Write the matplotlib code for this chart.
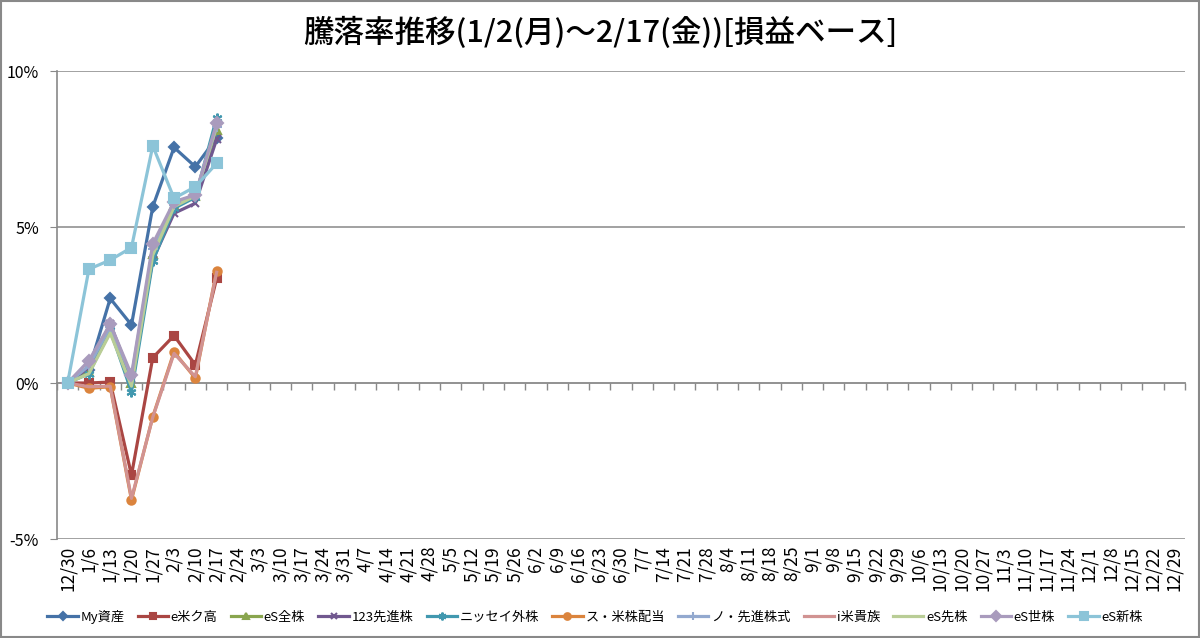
import matplotlib
matplotlib.use("Agg")
import matplotlib.pyplot as plt
from matplotlib.patches import Rectangle
import numpy as np
import datetime as dt

plt.rcParams['font.family'] = ['Noto Sans CJK JP', 'DejaVu Sans']

# Weekly category labels for the year
start = dt.date(2016, 12, 30)
weeks = [f"{(start + dt.timedelta(days=7 * i)).month}/{(start + dt.timedelta(days=7 * i)).day}"
         for i in range(53)]

# Cumulative change (%) for each fund
my_assets = [0, 0.42, 2.71, 1.86, 5.65, 7.55, 6.93, 7.86]
e_us_high = [0, 0.0, 0.03, -2.95, 0.81, 1.52, 0.58, 3.35]
es_all = [0, 0.35, 1.64, 0.0, 4.15, 5.7, 6.0, 8.1]
adv_123 = [0, 0.5, 1.9, 0.15, 3.95, 5.44, 5.76, 7.81]
nissay = [0, 0.3, 1.7, -0.28, 3.9, 5.6, 5.95, 8.5]
s_us_div = [0, -0.17, -0.12, -3.75, -1.08, 1.0, 0.15, 3.6]
no_adv = [0, 0.55, 1.8, 0.2, 4.3, 5.7, 6.05, 8.2]
i_us_arist = [0, -0.12, -0.1, -3.7, -1.1, 0.95, 0.2, 3.55]
es_adv = [0, 0.3, 1.6, -0.1, 4.1, 5.65, 6.0, 8.25]
es_world = [0, 0.72, 1.89, 0.26, 4.46, 5.81, 6.03, 8.32]
es_emerging = [0, 3.65, 3.94, 4.34, 7.6, 5.92, 6.29, 7.04]

names = ["My資産", "e米ク高", "eS全株", "123先進株", "ニッセイ外株", "ス・米株配当",
         "ノ・先進株式", "i米貴族", "eS先株", "eS世株", "eS新株"]
series = [my_assets, e_us_high, es_all, adv_123, nissay, s_us_div,
          no_adv, i_us_arist, es_adv, es_world, es_emerging]
colors = ["#4572A7", "#AA4643", "#89A54E", "#71588F", "#4198AF", "#DB843D",
          "#93A9CF", "#D19392", "#B9CD96", "#A99BBD", "#8CC4D8"]
markers = ["D", "s", "^", "x", (6, 2, 0), "o", "+", None, None, "D", "s"]
msizes = [5, 6, 6, 6, 7, 6, 7, 0, 0, 6, 7.5]

fig = plt.figure(figsize=(12, 6.38), dpi=100)
ax = fig.add_axes([57 / 1200, 1 - 539 / 638, 1128 / 1200, 468 / 638])

x = np.arange(len(weeks))
for vals, name, c, m, ms in zip(series, names, colors, markers, msizes):
    n = len(vals)
    ax.plot(x[:n], vals, color=c, lw=2.3, marker=m, ms=ms, mew=1.5,
            mec=c, mfc=c, label=name, solid_joinstyle='round')

ax.set_xlim(-0.5, len(weeks) - 0.5)
ax.set_ylim(-5, 10)
ax.set_yticks([-5, 0, 5, 10])
ax.set_yticklabels(["-5%", "0%", "5%", "10%"], fontsize=11.5)
ax.set_xticks(x)
ax.set_xticklabels(weeks, rotation=90, fontsize=12.5)
ax.tick_params(axis='x', length=0, pad=5)
ax.tick_params(axis='y', length=5, color='#898989', pad=8, direction='out')

for v in [-5, 5, 10]:
    ax.axhline(v, color='#9A9A9A', lw=1.3, zorder=0)

for s in ['top', 'right', 'bottom']:
    ax.spines[s].set_visible(False)
ax.spines['left'].set_color('#898989')
ax.spines['left'].set_linewidth(1.2)

# Category axis crossing at 0%
zero_axis = ax.secondary_xaxis(1 / 3)
zero_axis.set_xticks(np.arange(len(weeks) + 1) - 0.5)
zero_axis.set_xticklabels([])
zero_axis.tick_params(direction='out', length=5, color='#898989', width=1)
zero_axis.spines['bottom'].set_color('#898989')
zero_axis.spines['bottom'].set_linewidth(1.3)
zero_axis.spines['top'].set_visible(False)
zero_axis.xaxis.set_ticks_position('bottom')

fig.text(0.5, 0.948, "騰落率推移(1/2(月)～2/17(金))[損益ベース]", ha='center', va='center',
         fontsize=22, fontweight='medium')

handles, labels = ax.get_legend_handles_labels()
fig.legend(handles, labels, loc='center', bbox_to_anchor=(0.496, 0.033), ncol=11,
           frameon=False, fontsize=9.5, handlelength=2.3, columnspacing=1.0,
           handletextpad=0.2, markerscale=0.8)

fig.add_artist(Rectangle((0.0008, 0.0012), 0.9984, 0.9976, transform=fig.transFigure,
                         fill=False, edgecolor='#898989', lw=1.5))

fig.savefig("out.png", dpi=100)
